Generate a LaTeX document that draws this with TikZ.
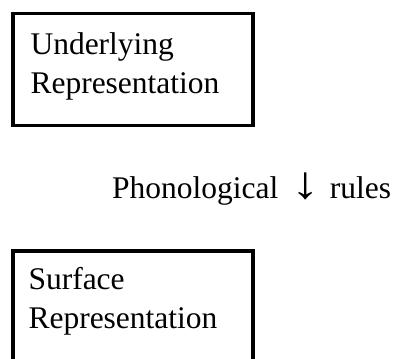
\documentclass[tikz,border=0pt]{standalone}
\usepackage{fontspec}
\setmainfont{Liberation Serif}
\begin{document}
\begin{tikzpicture}[x=0.381pt,y=-0.381pt,
  levelbox/.style={draw=black, line width=1.52pt, rectangle, inner sep=0pt,
    anchor=north west},
  leveltext/.style={inner sep=0pt, anchor=base west, align=left,
    font=\fontsize{12}{14.86}\selectfont}]
% page area; the lower box runs past the bottom edge
\clip (0,0) rectangle (393,358);
\path[fill=white] (0,0) rectangle (393,358);

% underlying level (anchored at the baseline of its last line)
\node[levelbox, minimum width=91.25pt, minimum height=42.67pt] (ubox) at (11,11.5) {};
\node[leveltext] (utext) at (30,93) {Underlying\\Representation};

% rule application between the levels
\node[leveltext] (rules) at (111.5,198)
  {Phonological\hspace{4.9pt}\scalebox{1.8}[1.45]{↓}\hspace{4pt}rules};

% surface level
\node[levelbox, minimum width=91.25pt, minimum height=60pt] (sbox) at (11,249) {};
\node[leveltext] (stext) at (28,328) {Surface\\Representation};
\end{tikzpicture}
\end{document}
